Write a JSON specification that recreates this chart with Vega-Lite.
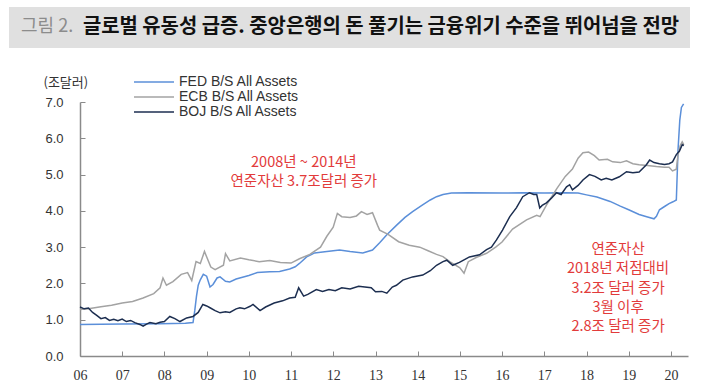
{
  "$schema": "https://vega.github.io/schema/vega-lite/v6.json",
  "padding": {"left": 9, "top": 7, "right": 0, "bottom": 0},
  "background": "white",
  "width": 608,
  "height": 254,
  "config": {"view": {"stroke": null}, "font": "Liberation Sans"},
  "encoding": {
    "x": {
      "field": "date", "type": "temporal",
      "scale": {"domain": [{"year": 2006, "month": 1, "date": 1}, {"year": 2020, "month": 5, "date": 28}]},
      "axis": {"title": null, "format": "%y", "tickCount": {"interval": "year", "step": 1}, "grid": false,
        "domainColor": "#8A8A8A", "domainWidth": 1.5, "tickColor": "#8A8A8A", "tickSize": -5, "tickWidth": 1,
        "labelFont": "Liberation Sans Narrow", "labelFontSize": 14, "labelColor": "#333333", "labelPadding": 17,
        "labelFlush": false, "labelOverlap": false}
    },
    "y": {
      "field": "value", "type": "quantitative",
      "scale": {"domain": [0, 7], "nice": false},
      "axis": {"title": "(조달러)", "titleAngle": 0, "titleAlign": "left", "titleBaseline": "middle",
        "titleX": -37, "titleY": -20, "titleFont": "Noto Sans CJK KR", "titleFontSize": 13, "titleFontWeight": "normal", "titleColor": "#333333",
        "values": [0, 1, 2, 3, 4, 5, 6, 7], "format": ".1f", "grid": false, "labelOverlap": false, "labelSeparation": 0,
        "tickSize": -5, "tickColor": "#8A8A8A", "labelPadding": 22, "labelFontSize": 13, "labelColor": "#333333",
        "domainColor": "#8A8A8A", "domainWidth": 1.5}
    }
  },
  "layer": [
    {
      "data": {"values": [{"fig": "그림 2.", "headline": "글로벌 유동성 급증. 중앙은행의 돈 풀기는 금융위기 수준을 뛰어넘을 전망"}]},
      "mark": {"type": "point", "size": 0, "strokeWidth": 0, "filled": true},
      "encoding": {
        "shape": {
          "field": "headline", "type": "nominal",
          "scale": {"domain": ["글로벌 유동성 급증. 중앙은행의 돈 풀기는 금융위기 수준을 뛰어넘을 전망"]},
          "legend": {"title": null, "orient": "none", "legendX": -71, "legendY": -95, "zindex": 0,
            "fillColor": "#E0E0E0", "padding": 10.5, "symbolSize": 0, "symbolStrokeWidth": 0, "symbolOpacity": 0,
            "labelFont": "Noto Sans CJK KR", "labelFontSize": 19.9, "labelFontWeight": "bold", "labelColor": "#111111",
            "labelOffset": 43.5, "labelLimit": 0,
            "labelExpr": "datum.label + '    '"}
        },
        "stroke": {
          "field": "fig", "type": "nominal",
          "scale": {"domain": ["그림 2."]},
          "legend": {"title": null, "orient": "none", "legendX": -61, "legendY": -84, "zindex": 1, "padding": 0,
            "symbolSize": 0, "symbolStrokeWidth": 0, "symbolOpacity": 0,
            "labelFont": "Noto Sans CJK KR", "labelFontSize": 18, "labelColor": "#8C8C8C", "labelOffset": -16, "labelLimit": 0}
        }
      }
    },
    {
      "data": {"values": [
        {"date": "2006-01-01", "series": "FED", "value": 0.87},
        {"date": "2007-01-01", "series": "FED", "value": 0.88},
        {"date": "2007-11-25", "series": "FED", "value": 0.89},
        {"date": "2008-07-01", "series": "FED", "value": 0.9},
        {"date": "2008-09-05", "series": "FED", "value": 0.92},
        {"date": "2008-09-20", "series": "FED", "value": 1.25},
        {"date": "2008-10-05", "series": "FED", "value": 1.65},
        {"date": "2008-10-20", "series": "FED", "value": 1.95},
        {"date": "2008-11-07", "series": "FED", "value": 2.1},
        {"date": "2008-12-03", "series": "FED", "value": 2.25},
        {"date": "2009-01-01", "series": "FED", "value": 2.2},
        {"date": "2009-01-30", "series": "FED", "value": 1.9},
        {"date": "2009-02-25", "series": "FED", "value": 1.97},
        {"date": "2009-04-01", "series": "FED", "value": 2.15},
        {"date": "2009-04-27", "series": "FED", "value": 2.18},
        {"date": "2009-06-13", "series": "FED", "value": 2.06},
        {"date": "2009-07-20", "series": "FED", "value": 2.04},
        {"date": "2009-09-13", "series": "FED", "value": 2.12},
        {"date": "2009-11-07", "series": "FED", "value": 2.17},
        {"date": "2010-01-01", "series": "FED", "value": 2.22},
        {"date": "2010-03-15", "series": "FED", "value": 2.3},
        {"date": "2010-07-01", "series": "FED", "value": 2.32},
        {"date": "2010-09-24", "series": "FED", "value": 2.33},
        {"date": "2010-12-20", "series": "FED", "value": 2.4},
        {"date": "2011-02-06", "series": "FED", "value": 2.46},
        {"date": "2011-03-15", "series": "FED", "value": 2.55},
        {"date": "2011-05-16", "series": "FED", "value": 2.73},
        {"date": "2011-07-24", "series": "FED", "value": 2.84},
        {"date": "2011-10-20", "series": "FED", "value": 2.87},
        {"date": "2012-01-01", "series": "FED", "value": 2.9},
        {"date": "2012-02-25", "series": "FED", "value": 2.92},
        {"date": "2012-05-26", "series": "FED", "value": 2.88},
        {"date": "2012-09-13", "series": "FED", "value": 2.84},
        {"date": "2012-12-06", "series": "FED", "value": 2.92},
        {"date": "2013-02-06", "series": "FED", "value": 3.12},
        {"date": "2013-04-09", "series": "FED", "value": 3.34},
        {"date": "2013-07-01", "series": "FED", "value": 3.6},
        {"date": "2013-09-13", "series": "FED", "value": 3.82},
        {"date": "2013-11-18", "series": "FED", "value": 3.98},
        {"date": "2014-02-06", "series": "FED", "value": 4.15},
        {"date": "2014-04-20", "series": "FED", "value": 4.3},
        {"date": "2014-06-13", "series": "FED", "value": 4.39},
        {"date": "2014-08-08", "series": "FED", "value": 4.45},
        {"date": "2014-10-20", "series": "FED", "value": 4.49},
        {"date": "2015-03-15", "series": "FED", "value": 4.5},
        {"date": "2016-01-01", "series": "FED", "value": 4.49},
        {"date": "2016-07-01", "series": "FED", "value": 4.5},
        {"date": "2017-01-01", "series": "FED", "value": 4.49},
        {"date": "2017-07-01", "series": "FED", "value": 4.5},
        {"date": "2017-10-20", "series": "FED", "value": 4.49},
        {"date": "2018-01-01", "series": "FED", "value": 4.44},
        {"date": "2018-04-01", "series": "FED", "value": 4.38},
        {"date": "2018-07-24", "series": "FED", "value": 4.26},
        {"date": "2018-10-20", "series": "FED", "value": 4.13},
        {"date": "2019-01-01", "series": "FED", "value": 4.03},
        {"date": "2019-04-01", "series": "FED", "value": 3.9},
        {"date": "2019-06-13", "series": "FED", "value": 3.83},
        {"date": "2019-08-08", "series": "FED", "value": 3.78},
        {"date": "2019-08-29", "series": "FED", "value": 3.85},
        {"date": "2019-09-24", "series": "FED", "value": 4.03},
        {"date": "2019-11-07", "series": "FED", "value": 4.12},
        {"date": "2019-12-16", "series": "FED", "value": 4.2},
        {"date": "2020-01-19", "series": "FED", "value": 4.25},
        {"date": "2020-02-17", "series": "FED", "value": 4.3},
        {"date": "2020-03-03", "series": "FED", "value": 5.7},
        {"date": "2020-03-18", "series": "FED", "value": 6.5},
        {"date": "2020-04-01", "series": "FED", "value": 6.85},
        {"date": "2020-04-20", "series": "FED", "value": 6.95},

        {"date": "2006-01-01", "series": "ECB", "value": 1.28},
        {"date": "2006-03-15", "series": "ECB", "value": 1.3},
        {"date": "2006-07-01", "series": "ECB", "value": 1.36},
        {"date": "2006-10-01", "series": "ECB", "value": 1.4},
        {"date": "2007-01-01", "series": "ECB", "value": 1.46},
        {"date": "2007-04-01", "series": "ECB", "value": 1.5},
        {"date": "2007-07-01", "series": "ECB", "value": 1.6},
        {"date": "2007-10-01", "series": "ECB", "value": 1.72},
        {"date": "2007-11-25", "series": "ECB", "value": 1.88},
        {"date": "2007-12-20", "series": "ECB", "value": 2.15},
        {"date": "2008-01-19", "series": "ECB", "value": 1.95},
        {"date": "2008-03-15", "series": "ECB", "value": 2.05},
        {"date": "2008-05-26", "series": "ECB", "value": 2.25},
        {"date": "2008-07-20", "series": "ECB", "value": 2.3},
        {"date": "2008-08-25", "series": "ECB", "value": 2.08},
        {"date": "2008-10-01", "series": "ECB", "value": 2.6},
        {"date": "2008-11-07", "series": "ECB", "value": 2.55},
        {"date": "2008-12-13", "series": "ECB", "value": 2.88},
        {"date": "2009-02-06", "series": "ECB", "value": 2.45},
        {"date": "2009-03-15", "series": "ECB", "value": 2.38},
        {"date": "2009-05-26", "series": "ECB", "value": 2.5},
        {"date": "2009-06-13", "series": "ECB", "value": 2.82},
        {"date": "2009-07-20", "series": "ECB", "value": 2.62},
        {"date": "2009-10-20", "series": "ECB", "value": 2.7},
        {"date": "2010-01-01", "series": "ECB", "value": 2.65},
        {"date": "2010-04-01", "series": "ECB", "value": 2.6},
        {"date": "2010-07-01", "series": "ECB", "value": 2.63},
        {"date": "2010-10-01", "series": "ECB", "value": 2.58},
        {"date": "2011-01-01", "series": "ECB", "value": 2.56},
        {"date": "2011-03-15", "series": "ECB", "value": 2.68},
        {"date": "2011-06-13", "series": "ECB", "value": 2.8},
        {"date": "2011-09-13", "series": "ECB", "value": 3.0},
        {"date": "2011-11-07", "series": "ECB", "value": 3.3},
        {"date": "2012-01-01", "series": "ECB", "value": 3.55},
        {"date": "2012-02-06", "series": "ECB", "value": 3.93},
        {"date": "2012-03-15", "series": "ECB", "value": 3.84},
        {"date": "2012-05-26", "series": "ECB", "value": 3.82},
        {"date": "2012-07-20", "series": "ECB", "value": 3.86},
        {"date": "2012-09-01", "series": "ECB", "value": 3.98},
        {"date": "2012-10-20", "series": "ECB", "value": 3.9},
        {"date": "2012-12-06", "series": "ECB", "value": 3.95},
        {"date": "2013-01-19", "series": "ECB", "value": 3.6},
        {"date": "2013-02-06", "series": "ECB", "value": 3.47},
        {"date": "2013-04-20", "series": "ECB", "value": 3.35},
        {"date": "2013-07-20", "series": "ECB", "value": 3.15},
        {"date": "2013-10-20", "series": "ECB", "value": 3.05},
        {"date": "2014-01-19", "series": "ECB", "value": 3.0},
        {"date": "2014-04-01", "series": "ECB", "value": 2.9},
        {"date": "2014-06-13", "series": "ECB", "value": 2.8},
        {"date": "2014-08-08", "series": "ECB", "value": 2.74},
        {"date": "2014-10-05", "series": "ECB", "value": 2.6},
        {"date": "2015-01-01", "series": "ECB", "value": 2.43},
        {"date": "2015-02-06", "series": "ECB", "value": 2.28},
        {"date": "2015-03-15", "series": "ECB", "value": 2.6},
        {"date": "2015-05-26", "series": "ECB", "value": 2.72},
        {"date": "2015-08-20", "series": "ECB", "value": 2.83},
        {"date": "2015-11-07", "series": "ECB", "value": 3.0},
        {"date": "2016-01-01", "series": "ECB", "value": 3.14},
        {"date": "2016-04-01", "series": "ECB", "value": 3.5},
        {"date": "2016-07-31", "series": "ECB", "value": 3.75},
        {"date": "2016-10-27", "series": "ECB", "value": 3.88},
        {"date": "2016-11-25", "series": "ECB", "value": 3.84},
        {"date": "2017-01-19", "series": "ECB", "value": 4.16},
        {"date": "2017-04-20", "series": "ECB", "value": 4.62},
        {"date": "2017-07-01", "series": "ECB", "value": 4.95},
        {"date": "2017-09-01", "series": "ECB", "value": 5.15},
        {"date": "2017-10-20", "series": "ECB", "value": 5.45},
        {"date": "2017-12-01", "series": "ECB", "value": 5.6},
        {"date": "2018-01-19", "series": "ECB", "value": 5.62},
        {"date": "2018-03-10", "series": "ECB", "value": 5.52},
        {"date": "2018-04-20", "series": "ECB", "value": 5.4},
        {"date": "2018-07-01", "series": "ECB", "value": 5.42},
        {"date": "2018-08-15", "series": "ECB", "value": 5.35},
        {"date": "2018-10-20", "series": "ECB", "value": 5.33},
        {"date": "2018-12-13", "series": "ECB", "value": 5.38},
        {"date": "2019-02-06", "series": "ECB", "value": 5.3},
        {"date": "2019-04-01", "series": "ECB", "value": 5.27},
        {"date": "2019-06-13", "series": "ECB", "value": 5.25},
        {"date": "2019-08-29", "series": "ECB", "value": 5.22},
        {"date": "2019-11-07", "series": "ECB", "value": 5.2},
        {"date": "2019-12-16", "series": "ECB", "value": 5.2},
        {"date": "2020-01-15", "series": "ECB", "value": 5.1},
        {"date": "2020-02-17", "series": "ECB", "value": 5.15},
        {"date": "2020-03-03", "series": "ECB", "value": 5.55},
        {"date": "2020-03-22", "series": "ECB", "value": 5.8},
        {"date": "2020-04-08", "series": "ECB", "value": 5.9},
        {"date": "2020-04-22", "series": "ECB", "value": 5.82},

        {"date": "2006-01-01", "series": "BOJ", "value": 1.35},
        {"date": "2006-02-06", "series": "BOJ", "value": 1.3},
        {"date": "2006-03-15", "series": "BOJ", "value": 1.32},
        {"date": "2006-04-20", "series": "BOJ", "value": 1.2},
        {"date": "2006-05-26", "series": "BOJ", "value": 1.12},
        {"date": "2006-07-01", "series": "BOJ", "value": 1.03},
        {"date": "2006-08-08", "series": "BOJ", "value": 1.06},
        {"date": "2006-09-13", "series": "BOJ", "value": 0.98},
        {"date": "2006-10-20", "series": "BOJ", "value": 1.01},
        {"date": "2006-11-25", "series": "BOJ", "value": 0.97},
        {"date": "2007-01-01", "series": "BOJ", "value": 1.02},
        {"date": "2007-02-06", "series": "BOJ", "value": 0.95},
        {"date": "2007-03-15", "series": "BOJ", "value": 0.98},
        {"date": "2007-04-20", "series": "BOJ", "value": 0.92},
        {"date": "2007-06-03", "series": "BOJ", "value": 0.87},
        {"date": "2007-07-01", "series": "BOJ", "value": 0.82},
        {"date": "2007-07-31", "series": "BOJ", "value": 0.88},
        {"date": "2007-08-29", "series": "BOJ", "value": 0.92},
        {"date": "2007-10-20", "series": "BOJ", "value": 0.89},
        {"date": "2007-11-25", "series": "BOJ", "value": 0.93},
        {"date": "2008-01-01", "series": "BOJ", "value": 0.95},
        {"date": "2008-02-17", "series": "BOJ", "value": 1.09},
        {"date": "2008-04-01", "series": "BOJ", "value": 1.03},
        {"date": "2008-05-15", "series": "BOJ", "value": 0.95},
        {"date": "2008-07-12", "series": "BOJ", "value": 1.05},
        {"date": "2008-09-05", "series": "BOJ", "value": 1.09},
        {"date": "2008-10-20", "series": "BOJ", "value": 1.2},
        {"date": "2008-11-29", "series": "BOJ", "value": 1.42},
        {"date": "2009-01-01", "series": "BOJ", "value": 1.38},
        {"date": "2009-01-30", "series": "BOJ", "value": 1.33},
        {"date": "2009-03-15", "series": "BOJ", "value": 1.25},
        {"date": "2009-04-27", "series": "BOJ", "value": 1.19},
        {"date": "2009-06-13", "series": "BOJ", "value": 1.22},
        {"date": "2009-07-20", "series": "BOJ", "value": 1.2},
        {"date": "2009-09-13", "series": "BOJ", "value": 1.3},
        {"date": "2009-10-15", "series": "BOJ", "value": 1.33},
        {"date": "2009-11-25", "series": "BOJ", "value": 1.3},
        {"date": "2010-01-12", "series": "BOJ", "value": 1.37},
        {"date": "2010-02-06", "series": "BOJ", "value": 1.42},
        {"date": "2010-04-08", "series": "BOJ", "value": 1.25},
        {"date": "2010-05-26", "series": "BOJ", "value": 1.35},
        {"date": "2010-08-08", "series": "BOJ", "value": 1.46},
        {"date": "2010-10-20", "series": "BOJ", "value": 1.52},
        {"date": "2010-12-20", "series": "BOJ", "value": 1.6},
        {"date": "2011-02-06", "series": "BOJ", "value": 1.62},
        {"date": "2011-03-08", "series": "BOJ", "value": 1.88},
        {"date": "2011-04-20", "series": "BOJ", "value": 1.65},
        {"date": "2011-05-26", "series": "BOJ", "value": 1.7},
        {"date": "2011-08-08", "series": "BOJ", "value": 1.83},
        {"date": "2011-10-01", "series": "BOJ", "value": 1.78},
        {"date": "2011-11-25", "series": "BOJ", "value": 1.83},
        {"date": "2012-01-19", "series": "BOJ", "value": 1.8},
        {"date": "2012-03-15", "series": "BOJ", "value": 1.88},
        {"date": "2012-05-26", "series": "BOJ", "value": 1.85},
        {"date": "2012-08-08", "series": "BOJ", "value": 1.92},
        {"date": "2012-10-01", "series": "BOJ", "value": 1.9},
        {"date": "2012-11-25", "series": "BOJ", "value": 1.88},
        {"date": "2013-01-01", "series": "BOJ", "value": 1.77},
        {"date": "2013-02-25", "series": "BOJ", "value": 1.78},
        {"date": "2013-04-09", "series": "BOJ", "value": 1.73},
        {"date": "2013-05-26", "series": "BOJ", "value": 1.9},
        {"date": "2013-07-01", "series": "BOJ", "value": 1.95},
        {"date": "2013-08-25", "series": "BOJ", "value": 2.09},
        {"date": "2013-11-18", "series": "BOJ", "value": 2.18},
        {"date": "2014-02-14", "series": "BOJ", "value": 2.23},
        {"date": "2014-04-20", "series": "BOJ", "value": 2.35},
        {"date": "2014-06-13", "series": "BOJ", "value": 2.5},
        {"date": "2014-08-08", "series": "BOJ", "value": 2.6},
        {"date": "2014-09-10", "series": "BOJ", "value": 2.64},
        {"date": "2014-10-31", "series": "BOJ", "value": 2.5},
        {"date": "2014-12-28", "series": "BOJ", "value": 2.58},
        {"date": "2015-02-06", "series": "BOJ", "value": 2.65},
        {"date": "2015-03-25", "series": "BOJ", "value": 2.73},
        {"date": "2015-06-20", "series": "BOJ", "value": 2.79},
        {"date": "2015-08-20", "series": "BOJ", "value": 2.93},
        {"date": "2015-10-01", "series": "BOJ", "value": 3.0},
        {"date": "2015-11-14", "series": "BOJ", "value": 3.2},
        {"date": "2016-01-05", "series": "BOJ", "value": 3.47},
        {"date": "2016-03-08", "series": "BOJ", "value": 3.84},
        {"date": "2016-05-05", "series": "BOJ", "value": 4.09},
        {"date": "2016-06-28", "series": "BOJ", "value": 4.39},
        {"date": "2016-08-25", "series": "BOJ", "value": 4.5},
        {"date": "2016-10-01", "series": "BOJ", "value": 4.45},
        {"date": "2016-10-27", "series": "BOJ", "value": 4.45},
        {"date": "2016-11-22", "series": "BOJ", "value": 4.08},
        {"date": "2016-12-13", "series": "BOJ", "value": 4.15},
        {"date": "2017-01-19", "series": "BOJ", "value": 4.22},
        {"date": "2017-03-03", "series": "BOJ", "value": 4.35},
        {"date": "2017-04-16", "series": "BOJ", "value": 4.5},
        {"date": "2017-05-26", "series": "BOJ", "value": 4.45},
        {"date": "2017-07-12", "series": "BOJ", "value": 4.66},
        {"date": "2017-08-08", "series": "BOJ", "value": 4.72},
        {"date": "2017-09-01", "series": "BOJ", "value": 4.58},
        {"date": "2017-10-20", "series": "BOJ", "value": 4.7},
        {"date": "2017-12-01", "series": "BOJ", "value": 4.85},
        {"date": "2018-01-26", "series": "BOJ", "value": 5.0},
        {"date": "2018-03-15", "series": "BOJ", "value": 4.95},
        {"date": "2018-05-08", "series": "BOJ", "value": 4.85},
        {"date": "2018-06-20", "series": "BOJ", "value": 4.9},
        {"date": "2018-08-08", "series": "BOJ", "value": 4.85},
        {"date": "2018-10-12", "series": "BOJ", "value": 4.94},
        {"date": "2018-12-13", "series": "BOJ", "value": 5.08},
        {"date": "2019-02-06", "series": "BOJ", "value": 5.05},
        {"date": "2019-04-01", "series": "BOJ", "value": 5.07},
        {"date": "2019-06-03", "series": "BOJ", "value": 5.27},
        {"date": "2019-07-01", "series": "BOJ", "value": 5.4},
        {"date": "2019-08-08", "series": "BOJ", "value": 5.33},
        {"date": "2019-09-24", "series": "BOJ", "value": 5.3},
        {"date": "2019-11-07", "series": "BOJ", "value": 5.28},
        {"date": "2019-12-16", "series": "BOJ", "value": 5.3},
        {"date": "2020-01-15", "series": "BOJ", "value": 5.35},
        {"date": "2020-02-17", "series": "BOJ", "value": 5.55},
        {"date": "2020-03-15", "series": "BOJ", "value": 5.65},
        {"date": "2020-04-08", "series": "BOJ", "value": 5.82},
        {"date": "2020-04-22", "series": "BOJ", "value": 5.8}
      ]},
      "mark": {"type": "line"},
      "encoding": {
        "color": {
          "field": "series", "type": "nominal",
          "scale": {"domain": ["FED", "ECB", "BOJ"], "range": ["#5B8FD9", "#A3A3A3", "#1C2E50"]},
          "legend": {"title": null, "orient": "none", "legendX": 67, "legendY": -27,
            "symbolType": "M-4,0H4", "symbolSize": 100, "symbolStrokeWidth": 2,
            "labelFont": "Liberation Sans", "labelFontSize": 14, "labelColor": "#333333", "labelOffset": 18, "rowPadding": 1,
            "labelExpr": "datum.label + ' B/S All Assets'"}
        },
        "strokeWidth": {
          "field": "series", "type": "nominal",
          "scale": {"domain": ["FED", "ECB", "BOJ"], "range": [1.5, 1.5, 2.1]},
          "legend": null
        }
      }
    },
    {
      "data": {"values": [
        {"date": "2011-04-22", "value": 5.33, "label": "2008년  ~  2014년\n연준자산 3.7조달러  증가"},
        {"date": "2018-10-01", "value": 2.92, "label": "연준자산\n2018년 저점대비\n3.2조 달러 증가\n3월 이후\n2.8조 달러 증가"}
      ]},
      "mark": {"type": "text", "color": "#E23B3B", "font": "Noto Sans CJK KR", "fontSize": 14.5, "lineBreak": "\n", "lineHeight": 19.3},
      "encoding": {
        "text": {"field": "label"}
      }
    }
  ]
}
